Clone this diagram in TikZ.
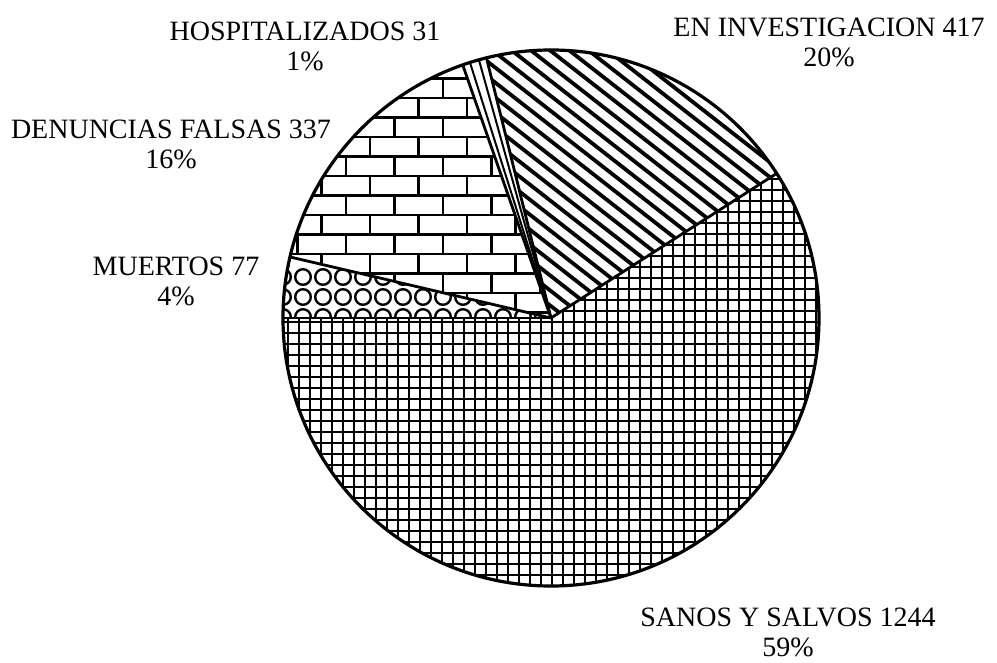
\documentclass[tikz,border=0pt]{standalone}
\usepackage{fontspec}
\setmainfont{Liberation Serif}
\begin{document}
\begin{tikzpicture}[x=1pt,y=1pt,line join=round,
 rotulo/.style={align=center,font=\fontsize{28}{30}\selectfont}]
 \def\r{268}
 \def\aM{166.84} % muertos / denuncias
 \def\aD{109.23} % denuncias / hospitalizados
 \def\aH{103.93} % hospitalizados / investigacion
 \def\aI{32.65}  % investigacion / sanos
 \useasboundingbox (-551,-345) rectangle (446,318);
 % sanos y salvos
 \begin{scope}
 \clip (0,0) -- (\aI:\r) arc (\aI:-180:\r) -- cycle;
 \foreach \k in {-25,...,25} {
  \draw[line width=2.8] (\k*11+1,-\r) -- (\k*11+1,\r);
  \draw[line width=2.8] (-\r,\k*11-4) -- (\r,\k*11-4);
 }
 \end{scope}
 % en investigacion
 \begin{scope}
 \clip (0,0) -- (\aH:\r) arc (\aH:\aI:\r) -- cycle;
 \foreach \k in {-2,...,40} \draw[line width=3.8] (-100,\k*15) -- ++(-38:700);
 \end{scope}
 % hospitalizados
 \begin{scope}
 \clip (0,0) -- (\aD:\r) arc (\aD:\aH:\r) -- cycle;
 \foreach \a in {105.6,107.6} \draw[line width=2] (0,0) -- (\a:\r+10);
 \end{scope}
 % denuncias falsas
 \begin{scope}
 \clip (0,0) -- (\aM:\r) arc (\aM:\aD:\r) -- cycle;
 \foreach \k in {-5,...,10} {
  \pgfmathsetmacro\yb{181-19.5*\k}
  \pgfmathsetmacro\sh{-24*mod(abs(\k),2)}
  \draw[line width=2.6] (-300,\yb) -- (50,\yb);
  \foreach \i in {-6,...,6} \draw[line width=2.6] (\i*48.5-181+\sh,\yb) -- ++(0,-19.5);
 }
 \end{scope}
 % muertos
 \begin{scope}
 \clip (0,0) -- (180:\r) arc (180:\aM:\r) -- cycle;
 \foreach \j in {0,...,3}
  \foreach \i in {-2,...,13} \draw[line width=2.4] (-248+20*\i,41-20*\j) circle (7.8);
 \end{scope}
 % bordes
 \foreach \a in {180,\aM,\aD,\aH,\aI} \draw[line width=2.8] (0,0) -- (\a:\r);
 \draw[line width=3.2] (0,0) circle (\r);
 \node[rotulo] (hosp) at (-246,272) {HOSPITALIZADOS 31\\1\%};
 \node[rotulo] (inv) at (278,276) {EN INVESTIGACION 417\\20\%};
 \node[rotulo] (den) at (-380,174) {DENUNCIAS FALSAS 337\\16\%};
 \node[rotulo] (muer) at (-375,37) {MUERTOS 77\\4\%};
 \node[rotulo] (sanos) at (237,-314) {SANOS Y SALVOS 1244\\59\%};
\end{tikzpicture}
\end{document}
